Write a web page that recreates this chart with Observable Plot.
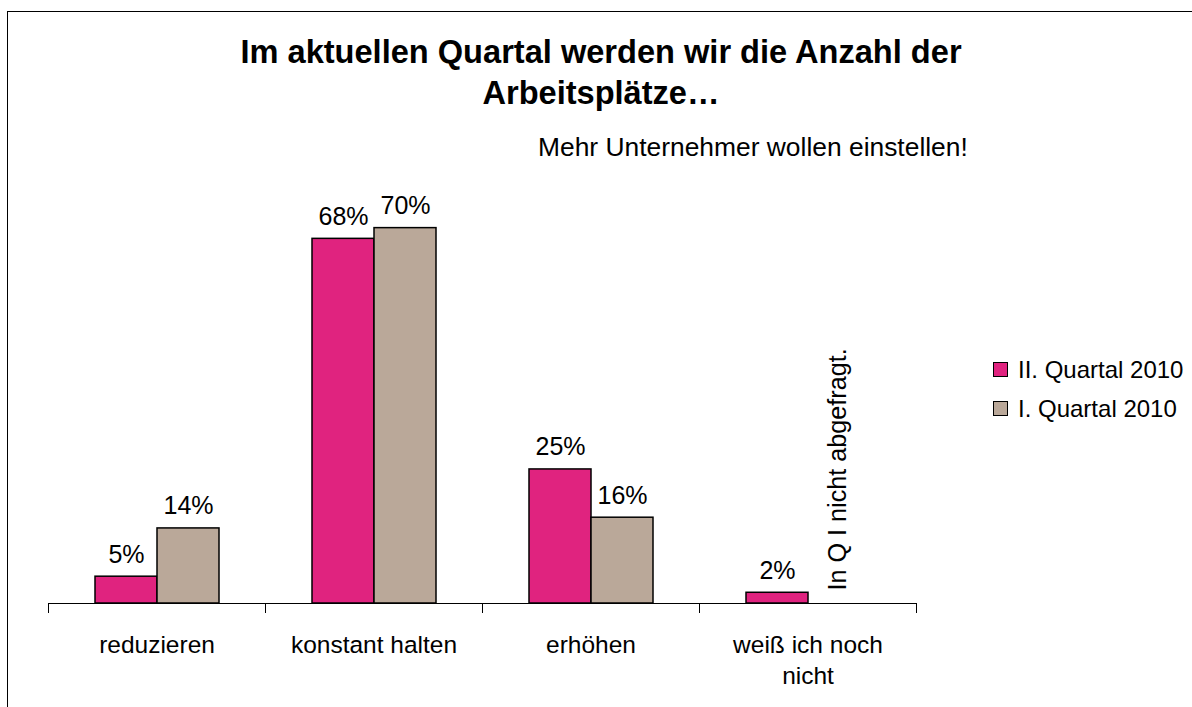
<!DOCTYPE html>
<html><head><meta charset="utf-8">
<script src="https://cdn.jsdelivr.net/npm/d3@7"></script>
<script src="https://cdn.jsdelivr.net/npm/@observablehq/plot@0.6"></script>
<style>
html,body{margin:0;padding:0;background:#fff;overflow:hidden}
#wrap{position:relative;width:1192px;height:707px;overflow:hidden;font-family:"Liberation Sans",Arial,sans-serif;color:#000}
#border{position:absolute;left:7px;top:11px;width:1400px;height:900px;border:1px solid #000;box-sizing:border-box}
#title{position:absolute;left:151px;width:900px;top:31px;text-align:center;font-weight:bold;font-size:32.6px;line-height:41px}
#subtitle{position:absolute;left:538px;top:135px;font-size:26.4px;line-height:24px;white-space:nowrap}
#legend{position:absolute;left:993px;top:349.5px}
.row{position:relative;height:39px;line-height:39px;font-size:24px;white-space:nowrap}
.sw{position:absolute;left:0;top:12.5px;width:15px;height:15px;border:1px solid #000;box-sizing:border-box}
.lt{position:absolute;left:25px;top:0}
#chart{position:absolute;left:0;top:0}
</style></head>
<body>
<div id="wrap">
  <div id="border"></div>
  <div id="chart"></div>
  <div id="title">Im aktuellen Quartal werden wir die Anzahl der<br>Arbeitsplätze…</div>
  <div id="subtitle">Mehr Unternehmer wollen einstellen!</div>
  <div id="legend"></div>
</div>
<script>
const categories = ["reduzieren", "konstant halten", "erhöhen", "weiß ich noch nicht"];
const categoryLabels = ["reduzieren", "konstant halten", "erhöhen", "weiß ich noch\nnicht"];
const seriesNames = ["II. Quartal 2010", "I. Quartal 2010"];
const q2Values = [5, 68, 25, 2];
const q1Values = [14, 70, 16, null];
const seriesColors = ["#E0237F", "#BAA899"];
const noteText = "In Q I nicht abgefragt.";
const noteCategory = "weiß ich noch nicht";
const noteSeries = "I. Quartal 2010";

const rows = [];
categories.forEach((c, i) => {
  if (q2Values[i] != null) rows.push({category: c, series: seriesNames[0], value: q2Values[i]});
  if (q1Values[i] != null) rows.push({category: c, series: seriesNames[1], value: q1Values[i]});
});
const noteRows = [{category: noteCategory, series: noteSeries, value: 0, text: noteText}];

const font = '"Liberation Sans", Arial, sans-serif';
const chart = Plot.plot({
  width: 1192,
  height: 707,
  marginLeft: 47,
  marginRight: 275,
  marginTop: 174,
  marginBottom: 104,
  style: {fontFamily: font, fontSize: "24px", color: "#000", background: "transparent"},
  fx: {domain: categories, padding: 0, label: null},
  x: {domain: seriesNames, paddingInner: 0, paddingOuter: 0.726, axis: null},
  y: {domain: [0, 80], axis: null},
  color: {domain: seriesNames, range: seriesColors},
  marks: [
    Plot.barY(rows, {fx: "category", x: "series", y: "value", fill: "series", stroke: "#000", strokeWidth: 1.5}),
    Plot.text(rows, {fx: "category", x: "series", y: "value", text: d => d.value + "%", dy: -14, lineAnchor: "bottom", fontSize: 25, fill: "#000"}),
    Plot.text(noteRows, {fx: "category", x: "series", y: "value", text: "text", rotate: -90, textAnchor: "start", lineAnchor: "middle", dx: -2, dy: -13, fontSize: 25.2, fill: "#000"}),
    Plot.ruleY([0], {stroke: "#000", strokeWidth: 1}),
    Plot.frame({anchor: "left", insetTop: 429, insetBottom: -9, stroke: "#000", strokeWidth: 1}),
    Plot.frame({anchor: "right", insetTop: 429, insetBottom: -9, stroke: "#000", strokeWidth: 1}),
    Plot.axisFx({anchor: "bottom", tickSize: 0, tickPadding: 27, fontSize: 24.5, lineHeight: 1.27, label: null,
      tickFormat: d => categoryLabels[categories.indexOf(d)]})
  ]
});
document.getElementById("chart").appendChild(chart);

const legend = document.getElementById("legend");
seriesNames.forEach((s, i) => {
  const row = document.createElement("div");
  row.className = "row";
  const sw = document.createElement("div");
  sw.className = "sw";
  sw.style.background = seriesColors[i];
  const lt = document.createElement("div");
  lt.className = "lt";
  lt.textContent = s;
  row.appendChild(sw);
  row.appendChild(lt);
  legend.appendChild(row);
});
</script>
</body></html>
